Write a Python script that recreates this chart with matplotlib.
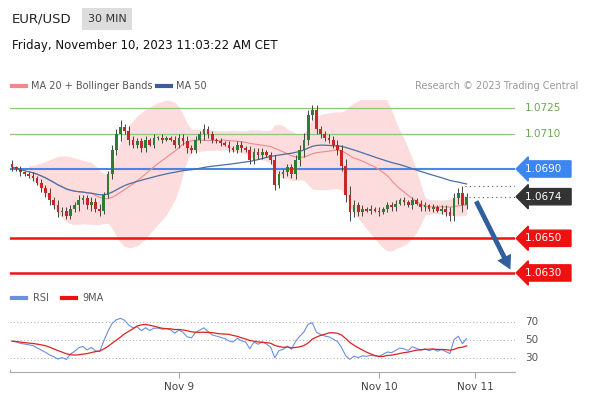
import numpy as np
import pandas as pd
import matplotlib
matplotlib.use('Agg')
from matplotlib import pyplot as plt

# 30 min closes, EUR/USD
closes = [1.0691, 1.0690, 1.0688, 1.0687, 1.0686, 1.0685, 1.0682, 1.0679, 1.0676, 1.0672,
          1.0669, 1.0665, 1.0666, 1.0663, 1.0667, 1.0669, 1.0672, 1.0673, 1.0669, 1.0671,
          1.0667, 1.0666, 1.0675, 1.0687, 1.0701, 1.0710, 1.0714, 1.0712, 1.0707, 1.0704,
          1.0706, 1.0702, 1.0707, 1.0704, 1.0708, 1.0708, 1.0707, 1.0708, 1.0707, 1.0704,
          1.0708, 1.0706, 1.0702, 1.0701, 1.0707, 1.0710, 1.0713, 1.0710, 1.0707, 1.0706,
          1.0705, 1.0704, 1.0702, 1.0701, 1.0704, 1.0702, 1.0701, 1.0695, 1.0700, 1.0698,
          1.0700, 1.0698, 1.0695, 1.0681, 1.0687, 1.0688, 1.0691, 1.0687, 1.0695, 1.0701,
          1.0707, 1.0721, 1.0724, 1.0713, 1.0710, 1.0708, 1.0707, 1.0704, 1.0701, 1.0692,
          1.0675, 1.0665, 1.0669, 1.0665, 1.0667, 1.0666, 1.0667, 1.0666, 1.0665, 1.0667,
          1.0669, 1.0668, 1.0670, 1.0672, 1.0671, 1.0669, 1.0672, 1.0670, 1.0668, 1.0669,
          1.0667, 1.0668, 1.0666, 1.0667, 1.0665, 1.0663, 1.0673, 1.0676, 1.0669, 1.0674]
first_open = 1.0693
# wick size in pips per candle
wicks = [2, 1, 2, 1, 1, 2, 1, 2, 2, 3, 2, 3, 2, 2, 2, 2, 3, 2, 2, 3,
         2, 3, 2, 2, 3, 3, 4, 2, 3, 2, 2, 2, 2, 1, 2, 1, 2, 1, 1, 2,
         2, 2, 3, 2, 2, 2, 3, 2, 2, 1, 2, 1, 2, 1, 2, 2, 1, 2, 2, 2,
         2, 1, 2, 3, 2, 2, 2, 2, 3, 3, 4, 3, 3, 3, 2, 2, 2, 2, 3, 3,
         4, 5, 3, 2, 2, 1, 2, 1, 2, 1, 2, 2, 2, 1, 2, 1, 2, 1, 2, 2,
         1, 2, 1, 2, 2, 3, 3, 3, 4, 2]
# averages carried in from before the window (RSI seed)
seed_up, seed_dn = 0.00025, 0.00025

levels_green = [1.0725, 1.0710]
level_blue = 1.0690
levels_red = [1.0650, 1.0630]
last_price = 1.0674
rsi_levels = [70, 50, 30]
date_pos = [40, 88, 111]
date_labels = ['Nov 9', 'Nov 10', 'Nov 11']

c = pd.Series(closes)
opens = [first_open] + closes[:-1]
highs = [max(o, cl) + w * 0.0001 for o, cl, w in zip(opens, closes, wicks)]
lows = [min(o, cl) - w * 0.0001 for o, cl, w in zip(opens, closes, wicks)]
ma20 = c.rolling(20, min_periods=5).mean()
sd20 = c.rolling(20, min_periods=5).std(ddof=0)
ma50 = c.rolling(50, min_periods=1).mean()

d = np.diff([first_open] + closes)
au, ad = seed_up, seed_dn
rsi = []
for v in d:
    au = (au * 13 + max(v, 0)) / 14
    ad = (ad * 13 + max(-v, 0)) / 14
    rsi.append(100 - 100 / (1 + au / ad))
rsi = pd.Series(rsi)
rsi9 = rsi.rolling(9, min_periods=1).mean()

W, H = 590, 400
fig = plt.figure(figsize=(5.9, 4.0), dpi=100)
fig.patch.set_facecolor('white')

def ax_rect(x0, y0, x1, y1):
    return [x0 / W, 1 - y1 / H, (x1 - x0) / W, (y1 - y0) / H]

xlim = (-0.5, 120.6)
ax = fig.add_axes(ax_rect(10, 100, 515, 283))
ax.set_xlim(*xlim)
ax.set_ylim(1.06242, 1.07298)
ax.axis('off')

x = np.arange(len(closes))
ax.fill_between(x, ma20 - 2 * sd20, ma20 + 2 * sd20, color='#fcdcdc', lw=0, zorder=1)
for lv in levels_green:
    ax.axhline(lv, color='#93c47d', lw=0.9, zorder=2)
ax.axhline(level_blue, color='#4a86e8', lw=1.5, zorder=2)
for lv in levels_red:
    ax.axhline(lv, color='#ee1111', lw=1.8, zorder=2)
ax.plot(x, ma20, color='#f08a8a', lw=0.8, zorder=3)
ax.plot(x, ma50, color='#4a6fa5', lw=0.9, zorder=3)
for i in range(len(closes)):
    col = '#2e7d32' if closes[i] >= opens[i] else '#c62828'
    ax.vlines(i, lows[i], highs[i], color='#444444', lw=0.7, zorder=4)
    b0 = min(opens[i], closes[i])
    bh = max(abs(closes[i] - opens[i]), 0.00005)
    ax.bar(i, bh, bottom=b0, width=0.65, color=col, lw=0, zorder=5)

n = len(closes)
ax.plot([n - 0.5, xlim[1]], [last_price, last_price], color='#555555', lw=0.8, ls=(0, (1, 3)))
ax.plot([n - 1.5, xlim[1]], [highs[-2], highs[-2]], color='#555555', lw=0.8, ls=(0, (1, 3)))
ax.annotate('', xy=(119.8, 1.06305), xytext=(111, 1.06728),
            arrowprops=dict(arrowstyle='simple,head_width=1.1,head_length=1.0,tail_width=0.35',
                            color='#2f5f9e', lw=0))

tx = 1.02
for lv in levels_green:
    ax.text(tx, lv, '%.4f' % lv, transform=ax.get_yaxis_transform(), color='#6aa84f',
            fontsize=7.5, va='center', ha='left')
tags = [(level_blue, '#3d85f0'), (last_price, '#333333')] + [(lv, '#ee1111') for lv in levels_red]
for lv, col in tags:
    ax.text(tx, lv, '%.4f  ' % lv, transform=ax.get_yaxis_transform(), color='white',
            fontsize=7.5, va='center', ha='left',
            bbox=dict(boxstyle='larrow,pad=0.3', fc=col, ec=col))

# RSI panel
ax2 = fig.add_axes(ax_rect(10, 300, 515, 372))
ax2.set_xlim(*xlim)
ax2.set_ylim(14.5, 94)
for lv in rsi_levels:
    ax2.axhline(lv, color='#aaaaaa', lw=0.7, ls=(0, (1, 2.5)))
    ax2.text(1.02, lv, str(lv), transform=ax2.get_yaxis_transform(), color='#555555',
             fontsize=7.5, va='center')
ax2.plot(x, rsi, color='#6d8fe0', lw=0.8)
ax2.plot(x, rsi9, color='#dd2222', lw=0.9)
for s in ['top', 'right', 'left']:
    ax2.spines[s].set_visible(False)
ax2.spines['bottom'].set_color('#aaaaaa')
ax2.set_yticks([])
ax2.set_xticks(date_pos)
ax2.set_xticklabels(date_labels, fontsize=7.5, color='#444444')
ax2.tick_params(axis='x', length=4, color='#aaaaaa', pad=3)
ax2.plot([xlim[0], xlim[0]], [14.5, 17], color='#aaaaaa', lw=0.8, clip_on=False)

# header and legends
fig.text(12 / W, 1 - 19 / H, 'EUR/USD', fontsize=9.5, color='#222222', va='center')
fig.text(88 / W, 1 - 19 / H, '30 MIN', fontsize=8, color='#333333', va='center',
         bbox=dict(boxstyle='square,pad=0.5', fc='#dddddd', ec='none'))
fig.text(12 / W, 1 - 46 / H, 'Friday, November 10, 2023 11:03:22 AM CET', fontsize=8.5,
         color='#111111', va='center')
fig.add_artist(plt.Line2D([12 / W, 26 / W], [1 - 86 / H] * 2, color='#f08a8a', lw=3))
fig.text(31 / W, 1 - 86 / H, 'MA 20 + Bollinger Bands', fontsize=7, color='#555555', va='center')
fig.add_artist(plt.Line2D([157 / W, 171 / W], [1 - 86 / H] * 2, color='#3d5f95', lw=3))
fig.text(176 / W, 1 - 86 / H, 'MA 50', fontsize=7, color='#555555', va='center')
fig.text(578 / W, 1 - 86 / H, 'Research \u00a9 2023 Trading Central', fontsize=7,
         color='#999999', va='center', ha='right')
fig.add_artist(plt.Line2D([12 / W, 26 / W], [1 - 298 / H] * 2, color='#6d8fe0', lw=3))
fig.text(33 / W, 1 - 298 / H, 'RSI', fontsize=7, color='#555555', va='center')
fig.add_artist(plt.Line2D([62 / W, 76 / W], [1 - 298 / H] * 2, color='#ee1111', lw=3))
fig.text(82 / W, 1 - 298 / H, '9MA', fontsize=7, color='#555555', va='center')

fig.savefig('out.png', dpi=100)
